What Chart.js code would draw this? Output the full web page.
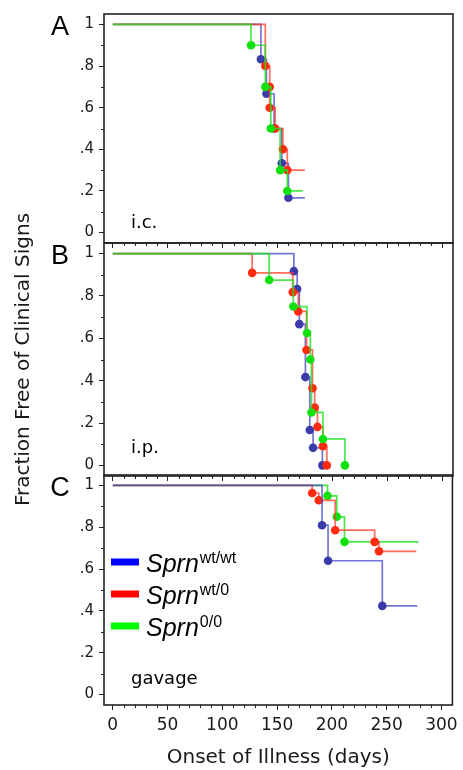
<!DOCTYPE html>
<html>
<head>
<meta charset="utf-8">
<script src="https://cdn.jsdelivr.net/npm/chart.js@4.4.1/dist/chart.umd.min.js"></script>
<style>
  body { margin: 0; background: #fff; }
  #wrap { position: relative; width: 463px; height: 770px; }
  canvas { position: absolute; left: 0; top: 0; }
</style>
</head>
<body>
<div id="wrap">
  <canvas id="pa" width="463" height="770"></canvas>
  <canvas id="pb" width="463" height="770"></canvas>
  <canvas id="pc" width="463" height="770"></canvas>
</div>
<script>
//---------------------------
// axes
var xTicks = [0, 50, 100, 150, 200, 250, 300];
var yTicks = [0, 0.2, 0.4, 0.6, 0.8, 1];
var yTickLabels = ['0', '.2', '.4', '.6', '.8', '1'];
var yMinor = [0.1, 0.3, 0.5, 0.7, 0.9];
var xMinor = [];
for (var m = 10; m < 300; m += 10) { if (m % 50) xMinor.push(m); }

// genotypes: Sprn wt/wt, wt/0, 0/0
var genotypes = ['wt/wt', 'wt/0', '0/0'];
var lineColors = ['rgba(70,70,200,0.75)', 'rgba(255,60,40,0.75)', 'rgba(30,225,30,0.8)'];
var dotColors = ['#3a3aa8', '#ff2a10', '#10e010'];
var keyColors = ['#0000ff', '#ff0000', '#00ff00'];

//---------------------------
// [day, fraction free] at each drop (dot); *End = day the line stops
// A: i.c.
var icWtWt = [[135, 0.833], [140, 0.667], [147, 0.5], [154, 0.333], [160, 0.167]];
var icWt0  = [[139, 0.8], [143, 0.7], [143, 0.6], [148, 0.5], [155, 0.4], [159, 0.3]];
var ic00   = [[126, 0.9], [139, 0.7], [144, 0.5], [152.5, 0.3], [159, 0.2]];
var icEnd  = [175, 175, 173];

// B: i.p.
var ipWtWt = [[165, 0.917], [168, 0.833], [170, 0.667], [175.5, 0.417], [179.5, 0.167], [182.5, 0.083], [191, 0]];
var ipWt0  = [[127, 0.909], [164, 0.818], [169, 0.727], [176.5, 0.545], [182, 0.364], [184, 0.273], [186.5, 0.182], [191.5, 0.091], [195, 0]];
var ip00   = [[142.5, 0.875], [164.5, 0.75], [177, 0.625], [180, 0.5], [181, 0.25], [191.5, 0.125], [211.5, 0]];
var ipEnd  = [null, null, null];

// C: gavage
var gvWtWt = [[191, 0.81], [196.5, 0.64], [246, 0.424]];
var gvWt0  = [[182, 0.964], [188, 0.929], [203, 0.786], [239, 0.73], [243, 0.685]];
var gv00   = [[196, 0.95], [204.5, 0.85], [211.5, 0.73]];
var gvEnd  = [278, 277, 279];
//---------------------------

Chart.defaults.font.family = '"DejaVu Sans", sans-serif';
Chart.defaults.color = '#1a1a1a';
Chart.defaults.animation = false;

function curve(events, end) {
  var pts = [{ x: 0, y: 1, m: 0 }];
  events.forEach(function (e) { pts.push({ x: e[0], y: e[1], m: 1 }); });
  if (end != null) pts.push({ x: end, y: events[events.length - 1][1], m: 0 });
  return pts;
}

var panelDecor = {
  id: 'panelDecor',
  afterDraw: function (chart, args, o) {
    var ctx = chart.ctx, a = chart.chartArea, x = chart.scales.x, y = chart.scales.y;
    ctx.save();
    ctx.strokeStyle = '#222';
    ctx.lineWidth = 1;
    ctx.beginPath();
    xMinor.forEach(function (v) {
      var px = Math.round(x.getPixelForValue(v)) + 0.5;
      ctx.moveTo(px, a.bottom); ctx.lineTo(px, a.bottom + 3);
    });
    yMinor.forEach(function (v) {
      var py = Math.round(y.getPixelForValue(v)) + 0.5;
      ctx.moveTo(a.left, py); ctx.lineTo(a.left - 3, py);
    });
    ctx.stroke();
    ctx.lineWidth = 1.6;
    ctx.strokeRect(a.left, a.top, a.right - a.left, a.bottom - a.top);

    ctx.fillStyle = '#000';
    ctx.textAlign = 'center';
    ctx.textBaseline = 'alphabetic';
    ctx.font = '27px "Liberation Sans"';
    ctx.fillText(o.letter, 60, a.top + 21);
    ctx.textAlign = 'left';
    ctx.font = '18px "DejaVu Sans"';
    ctx.fillText(o.route, 131, a.bottom - o.routeLift);

    if (o.key) {
      genotypes.forEach(function (g, i) {
        var ky = a.top + 87 + i * 32;
        ctx.strokeStyle = keyColors[i];
        ctx.lineWidth = 7;
        ctx.beginPath(); ctx.moveTo(111, ky); ctx.lineTo(139, ky); ctx.stroke();
        ctx.font = 'italic 25px "Liberation Sans"';
        ctx.fillText('Sprn', 146, ky + 10);
        var w = ctx.measureText('Sprn').width;
        ctx.font = '16px "Liberation Sans"';
        ctx.fillText(g, 147 + w, ky + 1);
      });
    }
    ctx.restore();
  }
};

// drawOrder: lower number is drawn on top
function makePanel(id, series, ends, top, bottom, drawOrder, o) {
  var last = o.key;
  var datasets = series.map(function (ev, i) {
    return {
      label: 'Sprn ' + genotypes[i],
      data: curve(ev, ends[i]),
      stepped: 'before',
      borderColor: lineColors[i],
      borderWidth: 1.7,
      fill: false,
      order: drawOrder[i],
      pointRadius: function (c) { return c.raw && c.raw.m ? 4.3 : 0; },
      pointBackgroundColor: dotColors[i],
      pointBorderWidth: 0,
      pointHoverRadius: 4.3
    };
  });
  return new Chart(document.getElementById(id), {
    type: 'line',
    data: { datasets: datasets },
    options: {
      responsive: false,
      devicePixelRatio: 1,
      events: [],
      layout: { padding: { top: top, right: 10, left: 0, bottom: 0 } },
      plugins: { legend: { display: false }, tooltip: { enabled: false }, panelDecor: o },
      scales: {
        x: {
          type: 'linear', min: -8, max: 310,
          afterBuildTicks: function (s) { s.ticks = xTicks.map(function (v) { return { value: v }; }); },
          afterFit: function (s) { s.height = 770 - bottom; },
          grid: { drawOnChartArea: false, tickLength: 5, color: '#222' },
          border: { display: false },
          ticks: { display: last, autoSkip: false, maxRotation: 0, padding: 5, font: { size: 17 } },
          title: { display: last, text: 'Onset of Illness (days)', font: { size: 20 }, padding: { top: 0, bottom: 0 } }
        },
        y: {
          type: 'linear', min: -0.05, max: 1.05,
          afterBuildTicks: function (s) { s.ticks = yTicks.map(function (v) { return { value: v }; }); },
          afterFit: function (s) { s.width = 104; },
          grid: { drawOnChartArea: false, tickLength: 5, color: '#222' },
          border: { display: false },
          ticks: { padding: 5, font: { size: 15 }, callback: function (v, i) { return yTickLabels[i]; } },
          title: { display: !!o.yTitle, text: 'Fraction Free of Clinical Signs', font: { size: 20 }, padding: { top: 12, bottom: 0 } }
        }
      }
    },
    plugins: [panelDecor]
  });
}

makePanel('pa', [icWtWt, icWt0, ic00], icEnd, 13, 243, [2, 1, 0], { letter: 'A', route: 'i.c.', routeLift: 15, key: false });
makePanel('pb', [ipWtWt, ipWt0, ip00], ipEnd, 243, 476, [2, 1, 0], { letter: 'B', route: 'i.p.', routeLift: 23, key: false, yTitle: true });
makePanel('pc', [gvWtWt, gvWt0, gv00], gvEnd, 475, 705, [0, 1, 2], { letter: 'C', route: 'gavage', routeLift: 21, key: true });
</script>
</body>
</html>
